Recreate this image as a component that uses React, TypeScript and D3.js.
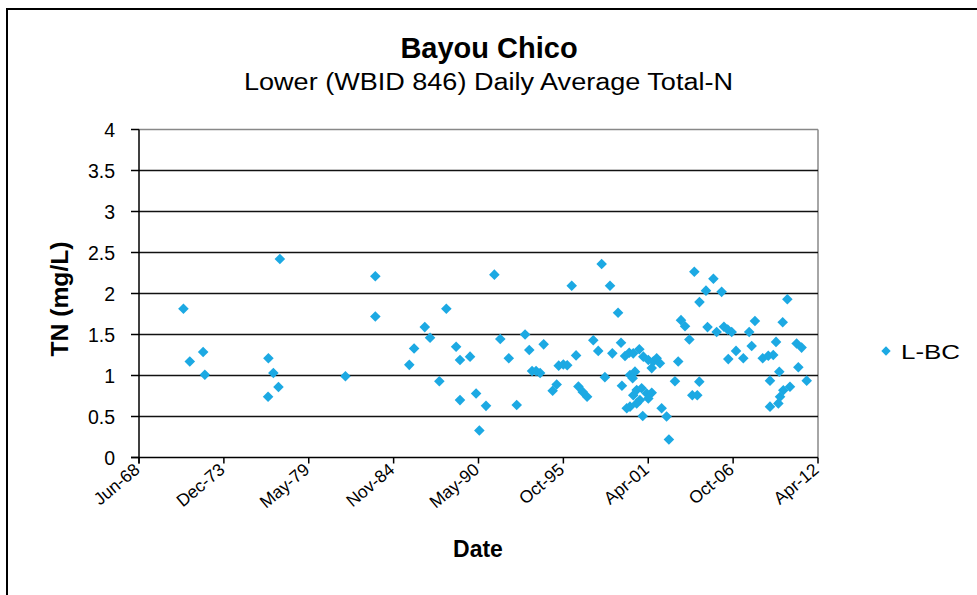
import React from "react";
import * as d3 from "d3";

// Sample dates (decimal years) and daily-average total nitrogen (mg/L), series "L-BC"
const sampleYears: number[] = [
  1971.31, 1971.72, 1972.58, 1972.69, 1976.77, 1976.79, 1977.11, 1977.44, 1977.53,
  1981.76, 1983.69, 1983.69, 1985.88, 1986.19, 1986.88, 1987.22, 1987.82, 1988.27,
  1988.9, 1989.15, 1989.15, 1989.8, 1990.19, 1990.4, 1990.83, 1991.37, 1991.75,
  1992.3, 1992.81, 1993.35, 1993.62, 1993.8, 1994.06, 1994.32, 1994.55, 1995.13,
  1995.39, 1995.52, 1995.82, 1996.07, 1996.36, 1996.64, 1996.79, 1997.07, 1997.35,
  1997.75, 1998.07, 1998.29, 1998.5, 1998.83, 1998.98, 1999.35, 1999.54, 1999.6,
  1999.8, 2000.07, 2000.33, 2000.72, 2000.98, 2001.3, 2001.62, 2001.84, 2002.05,
  2001.52, 2000.12, 2000.44, 2000.29, 2000.55, 2000.87, 2001.2, 2001.52, 2000.33,
  2000.76, 2001.3, 2000.12, 1999.91, 2000.55, 2000.94, 2002.16, 2002.48, 2002.63,
  2003.02, 2003.23, 2003.41, 2003.67, 2003.95, 2004.14, 2004.46, 2004.27, 2004.6,
  2004.59, 2005.02, 2005.12, 2005.5, 2005.71, 2006.03, 2006.18, 2006.42, 2006.68,
  2006.46, 2006.96, 2007.43, 2007.81, 2007.97, 2008.18, 2008.68, 2009.04, 2009.36,
  2009.15, 2009.54, 2009.75, 2009.97, 2010.27, 2009.15, 2009.69, 2009.8, 2010.01,
  2010.44, 2010.87, 2011.19, 2010.98, 2011.52,
];

const tnValues: number[] = [
  1.815, 1.17, 1.287, 1.01, 0.74, 1.21, 1.03, 0.86, 2.42,
  0.99, 2.21, 1.72, 1.13, 1.33, 1.59, 1.46, 0.93, 1.815,
  1.35, 1.19, 0.7, 1.23, 0.78, 0.33, 0.63, 2.23, 1.445,
  1.21, 0.64, 1.5, 1.31, 1.055, 1.055, 1.03, 1.38, 0.815,
  0.89, 1.12, 1.135, 1.125, 2.095, 1.245, 0.865, 0.8, 0.74,
  1.43, 1.3, 2.36, 0.98, 2.095, 1.27, 1.765, 1.4, 0.876,
  1.238, 1.278, 1.27, 1.32, 1.23, 1.19, 1.17, 1.21, 1.15,
  1.09, 1.006, 1.047, 0.966, 0.823, 0.844, 0.78, 0.79, 0.76,
  0.7, 0.72, 0.62, 0.6, 0.66, 0.506, 0.6, 0.5, 0.22,
  0.93, 1.17, 1.675, 1.6, 1.44, 0.76, 0.76, 2.265, 1.895,
  0.925, 2.035, 1.59, 2.18, 1.53, 2.02, 1.595, 1.56, 1.53,
  1.2, 1.3, 1.21, 1.53, 1.36, 1.665, 1.21, 1.24, 1.25,
  0.937, 1.41, 1.046, 1.65, 1.93, 0.62, 0.66, 0.74, 0.82,
  0.863, 1.39, 1.34, 1.1, 0.937,
];

// Excel date serials used as x-axis ticks
const xTickSerials: number[] = [25000, 27000, 29000, 31000, 33000, 35000, 37000, 39000, 41000];
const yTicks: number[] = [0, 0.5, 1, 1.5, 2, 2.5, 3, 3.5, 4];

const seriesName = "L-BC";
const titleText = "Bayou Chico";
const subtitleText = "Lower (WBID 846) Daily Average Total-N";
const xTitle = "Date";
const yTitle = "TN (mg/L)";

const serialToDate = (s: number) => new Date((s - 25569) * 864e5);
const yearToDate = (y: number) => {
  const yr = Math.floor(y);
  const start = Date.UTC(yr, 0, 1);
  const end = Date.UTC(yr + 1, 0, 1);
  return new Date(start + (y - yr) * (end - start));
};

const W = 977;
const H = 595;
const plot = { left: 139, right: 818, top: 129.5, bottom: 457.5 };
const FONT = "'Liberation Sans', Arial, sans-serif";
const COLOR = "#1CA9E3";

export default function App() {
  const x = d3
    .scaleTime()
    .domain([serialToDate(xTickSerials[0]), serialToDate(xTickSerials[xTickSerials.length - 1])])
    .range([plot.left, plot.right]);
  const y = d3.scaleLinear().domain([0, 4]).range([plot.bottom, plot.top]);
  const fmt = d3.utcFormat("%b-%y");
  const diamond = d3.symbol().type(d3.symbolSquare).size(56)() as string;
  const legendDiamond = d3.symbol().type(d3.symbolSquare).size(44)() as string;

  const points = sampleYears.map((yr, i) => ({ d: yearToDate(yr), v: tnValues[i] }));

  return (
    <div style={{ position: "absolute", left: 0, top: 0 }}>
      <svg width={W} height={H} style={{ display: "block", background: "#fff" }}>
        <rect x={0} y={0} width={W} height={H} fill="#fff" />
        {/* outer chart border */}
        <rect x={7} y={9} width={W + 20} height={H + 20} fill="none" stroke="#000" strokeWidth={2} />

        {/* titles */}
        <text x={489} y={58} textAnchor="middle" fontFamily={FONT} fontWeight="bold" fontSize={29}>
          {titleText}
        </text>
        <text
          x={488.5}
          y={90}
          textAnchor="middle"
          fontFamily={FONT}
          fontSize={23}
          textLength={489}
          lengthAdjust="spacingAndGlyphs"
        >
          {subtitleText}
        </text>

        {/* plot border (top/right) */}
        <line x1={plot.left} x2={plot.right} y1={plot.top} y2={plot.top} stroke="#888" strokeWidth={1.5} />
        <line x1={plot.right} x2={plot.right} y1={plot.top} y2={plot.bottom} stroke="#888" strokeWidth={1.5} />

        {/* gridlines */}
        {yTicks
          .filter((t) => t > 0 && t < 4)
          .map((t) => (
            <line key={"g" + t} x1={plot.left} x2={plot.right} y1={y(t)} y2={y(t)} stroke="#111" strokeWidth={1.5} />
          ))}

        {/* y axis */}
        <line x1={plot.left} x2={plot.left} y1={plot.top} y2={plot.bottom + 6} stroke="#000" strokeWidth={1.5} />
        {yTicks.map((t) => (
          <g key={"yt" + t}>
            <line x1={plot.left - 8} x2={plot.left} y1={y(t)} y2={y(t)} stroke="#000" strokeWidth={1.5} />
            <text x={115} y={y(t) + 7} textAnchor="end" fontFamily={FONT} fontSize={19.5} fill="#000">
              {t}
            </text>
          </g>
        ))}

        {/* x axis */}
        <line x1={plot.left - 8} x2={plot.right} y1={plot.bottom} y2={plot.bottom} stroke="#000" strokeWidth={1.5} />
        {xTickSerials.map((s) => {
          const px = x(serialToDate(s));
          return (
            <g key={"xt" + s}>
              <line x1={px} x2={px} y1={plot.bottom} y2={plot.bottom + 6} stroke="#000" strokeWidth={1.5} />
              <text
                transform={`translate(${px + 2},${plot.bottom + 14}) rotate(-40)`}
                textAnchor="end"
                fontFamily={FONT}
                fontSize={17.5}
                fill="#000"
              >
                {fmt(serialToDate(s))}
              </text>
            </g>
          );
        })}

        {/* axis titles */}
        <text x={478} y={557} textAnchor="middle" fontFamily={FONT} fontWeight="bold" fontSize={23}>
          {xTitle}
        </text>
        <text
          transform="translate(68,299) rotate(-90)"
          textAnchor="middle"
          fontFamily={FONT}
          fontWeight="bold"
          fontSize={23}
          textLength={115}
          lengthAdjust="spacingAndGlyphs"
        >
          {yTitle}
        </text>

        {/* points */}
        {points.map((p, i) => (
          <path
            key={"p" + i}
            d={diamond}
            transform={`translate(${x(p.d)},${y(p.v)}) rotate(45)`}
            fill={COLOR}
          />
        ))}

        {/* legend */}
        <path d={legendDiamond} transform="translate(886,351) rotate(45)" fill={COLOR} />
        <text x={901} y={358.5} fontFamily={FONT} fontSize={21} textLength={59} lengthAdjust="spacingAndGlyphs">
          {seriesName}
        </text>
      </svg>
    </div>
  );
}
